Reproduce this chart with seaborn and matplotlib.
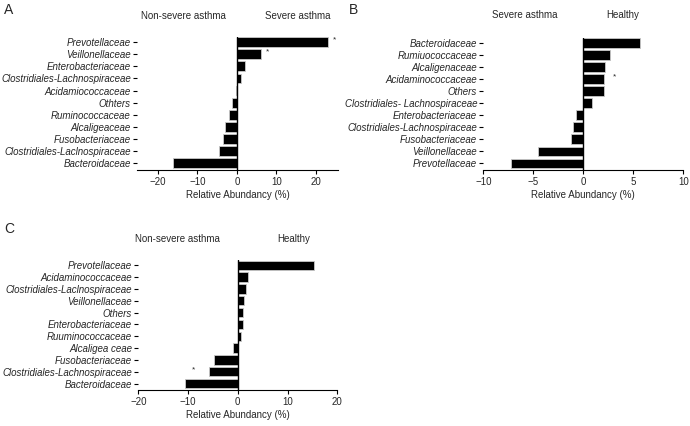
import matplotlib
matplotlib.use("Agg")
import matplotlib.pyplot as plt
import seaborn as sns
import pandas as pd

sns.set_theme(style="white")
plt.rcParams['font.family'] = ['Liberation Sans', 'DejaVu Sans']

# Panel A: Non-severe asthma vs Severe asthma
cats_a = ["Prevotellaceae", "Veillonellaceae", "Enterobacteriaceae",
          "Clostridiales-Lachnospiraceae", "Acidamiococcaceae", "Othters",
          "Ruminococcaceae", "Alcaligeaceae", "Fusobacteriaceae",
          "Clostridiales-Laclnospiraceae", "Bacteroidaceae"]
vals_a = [23.0, 6.0, 2.0, 1.0, -0.3, -1.3, -2.1, -3.0, -3.5, -4.5, -16.3]
star_a = ["Prevotellaceae", "Veillonellaceae"]

# Panel B: Severe asthma vs Healthy
cats_b = ["Bacteroidaceae", "Rumiuococcaceae", "Alcaligenaceae",
          "Acidaminococcaceae", "Others", "Clostridiales- Lachnospiraceae",
          "Enterobacteriaceae", "Clostridiales-Lachnospiraceae",
          "Fusobacteriaceae", "Veillonellaceae", "Prevotellaceae"]
vals_b = [5.67, 2.67, 2.17, 2.07, 2.07, 0.83, -0.77, -1.07, -1.23, -4.57, -7.27]
star_b = ["Acidaminococcaceae"]

# Panel C: Non-severe asthma vs Healthy
cats_c = ["Prevotellaceae", "Acidaminococcaceae", "Clostridiales-Laclnospiraceae",
          "Veillonellaceae", "Others", "Enterobacteriaceae", "Ruuminococcaceae",
          "Alcaligea ceae", "Fusobacteriaceae", "Clostridiales-Lachnospiraceae",
          "Bacteroidaceae"]
vals_c = [15.4, 2.0, 1.6, 1.2, 1.1, 1.0, 0.7, -0.9, -4.8, -5.7, -10.6]
star_c = ["Clostridiales-Lachnospiraceae"]

W, H = 690, 426
fig = plt.figure(figsize=(W / 100, H / 100), dpi=100)


def px_axes(left, top, right, bottom):
    return fig.add_axes([left / W, 1 - bottom / H, (right - left) / W, (bottom - top) / H])


def panel(ax, cats, vals, stars, star_x, xlim, xticks, left_lab, right_lab, lab_xy):
    df = pd.DataFrame({"cat": cats, "val": vals})
    sns.barplot(data=df, x="val", y="cat", order=cats, orient="h", color="black",
                edgecolor="#c8c8c8", linewidth=0.6, width=0.8, ax=ax, saturation=1)
    ax.set_xlim(*xlim)
    ax.set_ylim(len(cats) - 0.45, -0.45)
    ax.set_xticks(xticks)
    ax.set_xticklabels(["\u2212" + str(abs(t)) if t < 0 else str(t) for t in xticks])
    ax.axvline(0, color="black", lw=1.0, zorder=3)
    for s in ["top", "right", "left"]:
        ax.spines[s].set_visible(False)
    ax.spines["bottom"].set_color("black")
    ax.spines["bottom"].set_linewidth(0.8)
    ax.tick_params(axis="y", left=True, length=3, width=0.8, color="black",
                   labelsize=7.0, pad=1.5)
    ax.tick_params(axis="x", bottom=True, length=3, width=0.8, color="black",
                   labelsize=7.0, pad=2)
    for lab in ax.get_yticklabels():
        lab.set_fontstyle("italic")
    ax.set_ylabel("")
    ax.set_xlabel("Relative Abundancy (%)", fontsize=7.0, labelpad=2)
    for c, sx in zip(stars, star_x):
        ax.text(sx, cats.index(c) - 0.15, "*", fontsize=6, ha="center", va="center")
    (lx, rx, ty) = lab_xy
    fig.text(lx / W, 1 - ty / H, left_lab, fontsize=7, ha="center", va="center")
    fig.text(rx / W, 1 - ty / H, right_lab, fontsize=7, ha="center", va="center")


axA = px_axes(137, 36.6, 338, 170)
panel(axA, cats_a, vals_a, star_a, [24.8, 7.8], (-25.3, 25.6), [-20, -10, 0, 10, 20],
      "Non-severe asthma", "Severe asthma", (183, 298, 16))

axB = px_axes(483.3, 37.6, 683.3, 170)
panel(axB, cats_b, vals_b, star_b, [3.1], (-10, 10), [-10, -5, 0, 5, 10],
      "Severe asthma", "Healthy", (525, 623, 15))

axC = px_axes(138.3, 260, 337.3, 390)
panel(axC, cats_c, vals_c, star_c, [-8.9], (-20, 20), [-20, -10, 0, 10, 20],
      "Non-severe asthma", "Healthy", (177, 294, 239))

fig.text(9 / W, 1 - 10 / H, "A", fontsize=10, ha="center", va="center")
fig.text(354 / W, 1 - 10 / H, "B", fontsize=10, ha="center", va="center")
fig.text(9 / W, 1 - 229 / H, "C", fontsize=10, ha="center", va="center")

fig.savefig("out.png", dpi=100, facecolor="white")
